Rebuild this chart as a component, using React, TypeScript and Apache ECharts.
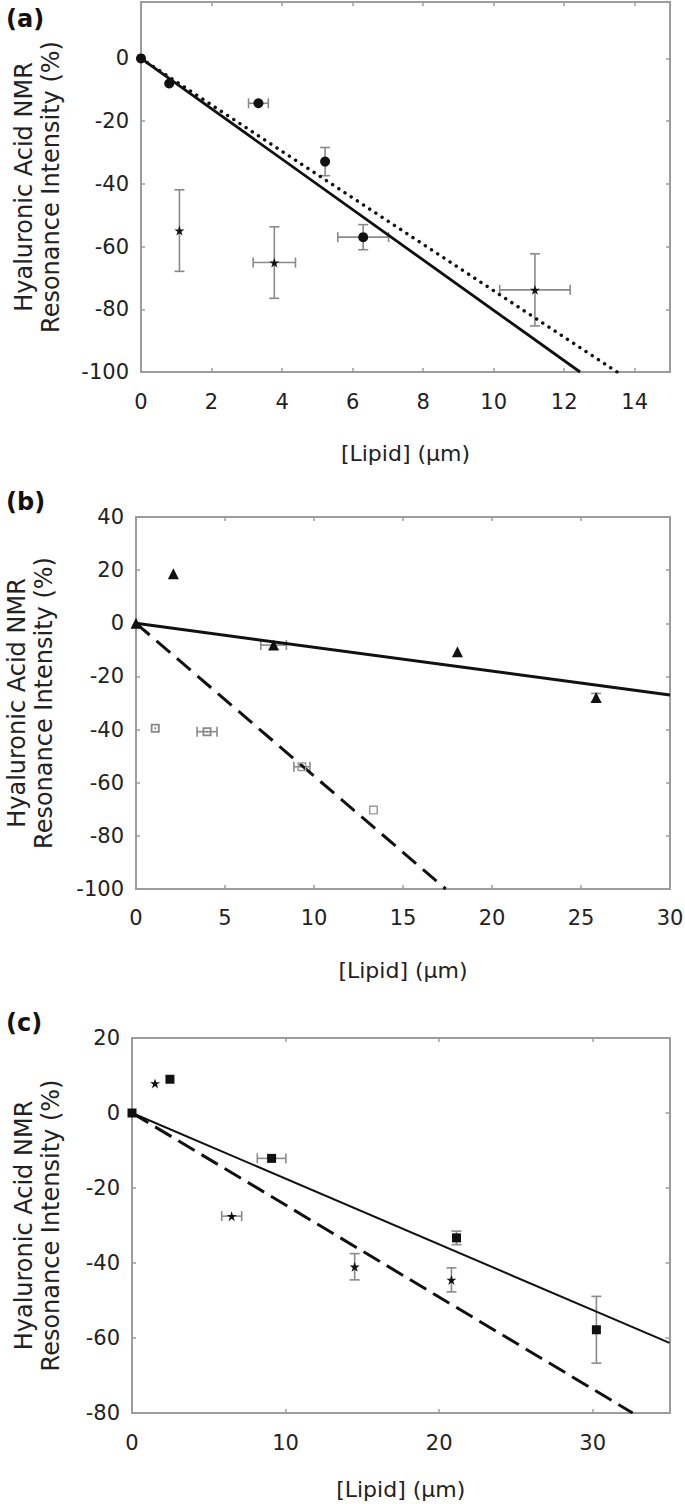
import React, { useEffect, useRef } from "react";
import * as echarts from "echarts";

// ---------- Panel (a) ----------
const aCircleX = [0, 0.8, 3.33, 5.22, 6.3];
const aCircleY = [0, -8.0, -14.3, -32.9, -57.0];
const aCircleXErr = [0, 0, 0.28, 0, 0.72];
const aCircleYErr = [0, 0, 0, 4.5, 4.0];
const aStarX = [1.09, 3.78, 11.17];
const aStarY = [-54.9, -65.1, -73.8];
const aStarXErr = [0, 0.6, 1.0];
const aStarYErr = [13, 11.4, 11.5];
const aFitSolid = [[0, 0], [12.45, -100]];
const aFitDotted = [[0, 0], [13.5, -100]];

// ---------- Panel (b) ----------
const bTriX = [0, 2.1, 7.73, 18.06, 25.85];
const bTriY = [0, 18.6, -8.2, -10.7, -27.9];
const bTriXErr = [0, 0, 0.72, 0, 0];
const bTriYErr = [0, 0, 0, 0, 1.5];
const bDotSqX = [1.08, 3.99];
const bDotSqY = [-39.5, -40.8];
const bDotSqXErr = [0, 0.56];
const bDotSqYErr = [0, 0];
const bOpenSqX = [9.32, 13.34];
const bOpenSqY = [-54.0, -70.3];
const bOpenSqXErr = [0.45, 0];
const bOpenSqYErr = [0, 0];
const bFitSolid = [[0, 0], [30, -27]];
const bFitDashed = [[0, 0], [17.4, -100]];

// ---------- Panel (c) ----------
const cSqX = [0, 2.47, 9.09, 21.13, 30.24];
const cSqY = [0, 9.0, -12.1, -33.3, -57.8];
const cSqXErr = [0, 0, 0.93, 0, 0];
const cSqYErr = [0, 0, 0, 1.8, 8.9];
const cStarX = [1.5, 6.49, 14.5, 20.8];
const cStarY = [7.9, -27.5, -41.0, -44.5];
const cStarXErr = [0, 0.65, 0, 0];
const cStarYErr = [0, 0, 3.5, 3.2];
const cFitSolid = [[0, 0], [35, -61.3]];
const cFitDashed = [[0, 0], [32.6, -80]];

const panelLabels = ["(a)", "(b)", "(c)"];
const yAxisTitle = "Hyaluronic Acid NMR\nResonance Intensity (%)";
const xAxisTitle = "[Lipid] (\u03bcm)";

const FONT = "'DejaVu Sans', 'Liberation Sans', Arial, sans-serif";
const AXIS_COLOR = "#9d9d9d";
const TEXT_COLOR = "#222";
const ERR_COLOR = "#8a8a8a";
const INK = "#111";

const STAR =
  "path://M50,0L61.2,34.5L97.6,34.5L68.2,55.9L79.4,90.5L50,69.1L20.6,90.5L31.8,55.9L2.4,34.5L38.8,34.5Z";
const DOT_SQUARE = "path://M0,0H10V10H0Z M2,2V8H8V2Z M4,4H6V6H4Z";
const OPEN_SQUARE = "path://M0,0H10V10H0Z M1.6,1.6V8.4H8.4V1.6Z";

const pts = (xs: number[], ys: number[]) => xs.map((x, i) => [x, ys[i]]);
const errs = (xs: number[], ys: number[], xe: number[], ye: number[]) =>
  xs
    .map((x, i) => [x, ys[i], x - xe[i], x + xe[i], ys[i] - ye[i], ys[i] + ye[i]])
    .filter((d, i) => xe[i] > 0 || ye[i] > 0);

const renderErr = (params: any, api: any) => {
  const x = api.value(0);
  const y = api.value(1);
  const xlo = api.value(2);
  const xhi = api.value(3);
  const ylo = api.value(4);
  const yhi = api.value(5);
  const cap = 5;
  const style = { stroke: ERR_COLOR, lineWidth: 1.6 };
  const ch: any[] = [];
  const seg = (x1: number, y1: number, x2: number, y2: number) =>
    ch.push({ type: "line", shape: { x1, y1, x2, y2 }, style });
  if (xhi > xlo) {
    const p1 = api.coord([xlo, y]);
    const p2 = api.coord([xhi, y]);
    seg(p1[0], p1[1], p2[0], p2[1]);
    seg(p1[0], p1[1] - cap, p1[0], p1[1] + cap);
    seg(p2[0], p2[1] - cap, p2[0], p2[1] + cap);
  }
  if (yhi > ylo) {
    const p1 = api.coord([x, ylo]);
    const p2 = api.coord([x, yhi]);
    seg(p1[0], p1[1], p2[0], p2[1]);
    seg(p1[0] - cap, p1[1], p1[0] + cap, p1[1]);
    seg(p2[0] - cap, p2[1], p2[0] + cap, p2[1]);
  }
  return { type: "group", children: ch };
};

const axisLine = { show: true, onZero: false, lineStyle: { color: AXIS_COLOR, width: 2 } };
const axisTick = { show: true, inside: true, length: 4, lineStyle: { color: AXIS_COLOR, width: 1.5 } };
const tickStyle = { color: TEXT_COLOR, fontSize: 21, fontFamily: FONT };

function xAxes(g: number, min: number, max: number, interval: number, margin: number, nameGap: number) {
  return [
    {
      type: "value",
      gridIndex: g,
      position: "bottom",
      min,
      max,
      interval,
      axisLine,
      axisTick,
      splitLine: { show: false },
      axisLabel: { ...tickStyle, margin, showMaxLabel: max % interval === 0 },
      name: xAxisTitle,
      nameLocation: "middle",
      nameGap,
      nameTextStyle: { color: TEXT_COLOR, fontSize: 22, fontFamily: FONT },
    },
    {
      type: "value",
      gridIndex: g,
      position: "top",
      min,
      max,
      interval,
      axisLine,
      axisTick,
      splitLine: { show: false },
      axisLabel: { show: false },
    },
  ];
}

function yAxes(g: number, min: number, max: number, interval: number, nameGap: number) {
  return [
    {
      type: "value",
      gridIndex: g,
      position: "left",
      min,
      max,
      interval,
      axisLine,
      axisTick,
      splitLine: { show: false },
      axisLabel: { ...tickStyle, margin: 12, showMaxLabel: max % interval === 0 },
      name: yAxisTitle,
      nameLocation: "middle",
      nameRotate: 90,
      nameGap,
      nameTextStyle: { color: TEXT_COLOR, fontSize: 24, fontFamily: FONT, lineHeight: 27 },
    },
    {
      type: "value",
      gridIndex: g,
      position: "right",
      min,
      max,
      interval,
      axisLine,
      axisTick,
      splitLine: { show: false },
      axisLabel: { show: false },
    },
  ];
}

function scatter(p: number, data: number[][], symbol: string, size: number, color: string) {
  return {
    type: "scatter",
    xAxisIndex: p * 2,
    yAxisIndex: p * 2,
    data,
    symbol,
    symbolSize: size,
    itemStyle: { color, opacity: 1 },
    z: 5,
  };
}

function fit(p: number, data: number[][], width: number, type: any, cap: any = "butt") {
  return {
    type: "line",
    xAxisIndex: p * 2,
    yAxisIndex: p * 2,
    data,
    symbol: "none",
    lineStyle: { color: INK, width, type, cap },
    z: 4,
  };
}

function errSeries(p: number, data: number[][]) {
  return {
    type: "custom",
    xAxisIndex: p * 2,
    yAxisIndex: p * 2,
    data,
    renderItem: renderErr,
    encode: { x: [0, 2, 3], y: [1, 4, 5] },
    z: 3,
    silent: true,
  };
}

export default function App() {
  const ref = useRef<HTMLDivElement>(null);
  useEffect(() => {
    if (!ref.current) return;
    const chart = echarts.init(ref.current, undefined, { renderer: "svg" });
    const option: any = {
      animation: false,
      backgroundColor: "#fff",
      title: panelLabels.map((t, i) => ({
        text: t,
        left: 6,
        top: [7, 490, 1011][i],
        padding: 0,
        textStyle: { fontSize: 24, fontWeight: "bold", fontFamily: FONT, color: "#111" },
      })),
      grid: [
        { left: 141, top: 2, width: 529, height: 370, outerBoundsMode: "none" },
        { left: 136, top: 517, width: 534, height: 372, outerBoundsMode: "none" },
        { left: 132, top: 1038, width: 537.5, height: 375, outerBoundsMode: "none" },
      ],
      xAxis: [
        ...xAxes(0, 0, 15, 2, 19, 70),
        ...xAxes(1, 0, 30, 5, 18, 70),
        ...xAxes(2, 0, 35, 10, 19, 65),
      ],
      yAxis: [
        ...yAxes(0, -100, 18, 20, 77),
        ...yAxes(1, -100, 40, 20, 79),
        ...yAxes(2, -80, 20, 20, 68),
      ],
      series: [
        // (a)
        errSeries(0, errs(aCircleX, aCircleY, aCircleXErr, aCircleYErr)),
        errSeries(0, errs(aStarX, aStarY, aStarXErr, aStarYErr)),
        fit(0, aFitSolid, 2.8, "solid"),
        fit(0, aFitDotted, 3.4, [0.1, 7.3], "round"),
        scatter(0, pts(aCircleX, aCircleY), "circle", 10, INK),
        scatter(0, pts(aStarX, aStarY), STAR, 10, INK),
        // (b)
        errSeries(1, errs(bTriX, bTriY, bTriXErr, bTriYErr)),
        errSeries(1, errs(bDotSqX, bDotSqY, bDotSqXErr, bDotSqYErr)),
        errSeries(1, errs(bOpenSqX, bOpenSqY, bOpenSqXErr, bOpenSqYErr)),
        fit(1, bFitSolid, 3, "solid"),
        fit(1, bFitDashed, 3, [18, 9]),
        scatter(1, pts(bTriX, bTriY), "triangle", 11, INK),
        scatter(1, pts(bDotSqX, bDotSqY), DOT_SQUARE, 9, "#888"),
        scatter(1, pts(bOpenSqX, bOpenSqY), OPEN_SQUARE, 9, "#999"),
        // (c)
        errSeries(2, errs(cSqX, cSqY, cSqXErr, cSqYErr)),
        errSeries(2, errs(cStarX, cStarY, cStarXErr, cStarYErr)),
        fit(2, cFitSolid, 2, "solid"),
        fit(2, cFitDashed, 3, [19, 8]),
        scatter(2, pts(cSqX, cSqY), "rect", 9, INK),
        scatter(2, pts(cStarX, cStarY), STAR, 10, INK),
      ],
    };
    chart.setOption(option);
    return () => chart.dispose();
  }, []);
  return (
    <div
      ref={ref}
      style={{ position: "absolute", left: 0, top: 0, width: 685, height: 1504, background: "#fff" }}
    />
  );
}
